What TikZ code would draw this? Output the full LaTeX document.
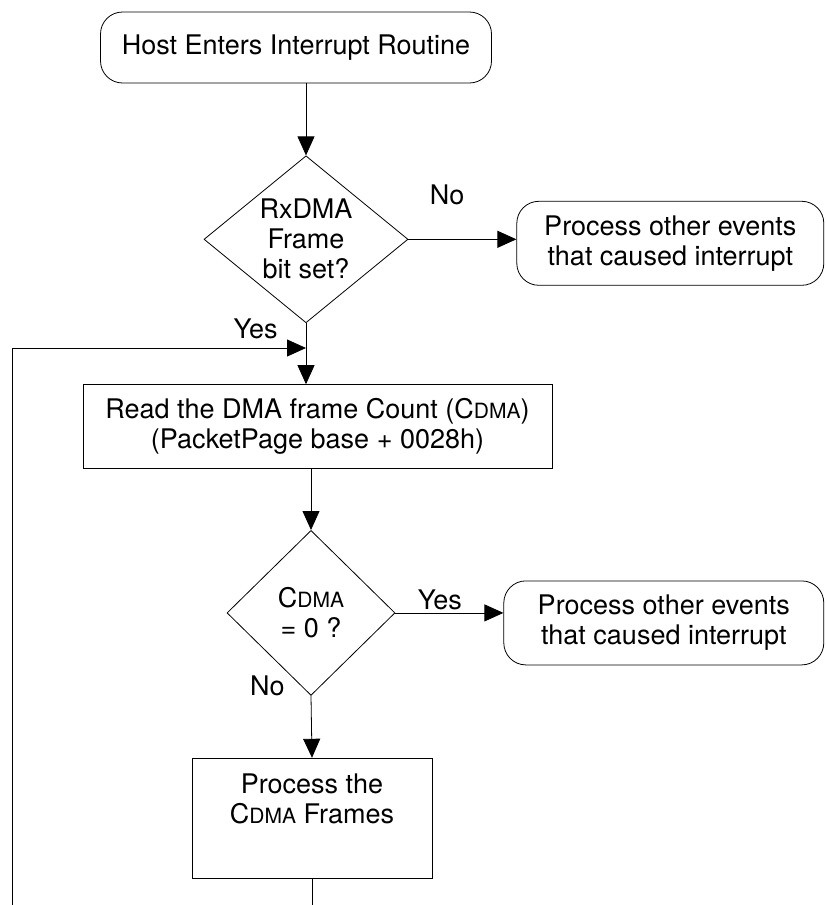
\documentclass[tikz,border=0pt]{standalone}
\usepackage{fontspec}
\setmainfont{TeX Gyre Heros}
\usetikzlibrary{positioning,shapes.geometric,arrows.meta}
\newcommand{\cdma}{C{\fontsize{21}{21}\selectfont DMA}}

\begin{document}
\begin{tikzpicture}[
    font=\fontsize{27}{30}\selectfont,
    line width=0.8pt,
    every node/.style={inner sep=0pt},
    terminal/.style={draw, rounded corners=22pt, minimum height=84pt, align=center},
    process/.style={draw, minimum height=84pt, align=center},
    decision/.style={draw, diamond, align=center},
    flow/.style={-{Triangle[length=19pt,width=17pt]}}]
  \useasboundingbox (0,0) rectangle (825pt,-905pt);

  \node (start) [terminal, minimum width=391pt, minimum height=71pt] at (296pt,-47.5pt) {Host Enters Interrupt Routine};
  \node (dec1) [decision, aspect=1.22, minimum width=204pt, minimum height=167pt, below=72pt of start, xshift=10pt] {RxDMA\\ Frame\\ bit set?};
  \node (other1) [terminal, minimum width=307pt, right=108pt of dec1, yshift=-4pt] {Process other events\\ that caused interrupt};
  \node (read) [process, minimum width=469pt, below=61pt of dec1, xshift=11.5pt] {Read the DMA frame Count (\cdma)\\ (PacketPage base + 0028h)};
  \node (dec2) [decision, aspect=1.02, minimum width=168pt, minimum height=165pt, below=61pt of read, xshift=-6.5pt] {\cdma\\ = 0 ?};
  \node (other2) [terminal, minimum width=320pt, right=108pt of dec2, yshift=-10pt] {Process other events\\ that caused interrupt};
  \node (proc) [process, minimum width=240pt, minimum height=120pt, below=62pt of dec2, xshift=1pt] {Process the\\ \cdma{} Frames\\ \strut};

  \node (no1) [right=21pt of dec1.east, yshift=44pt] {No};
  \node (yes1) [left=28pt of dec1.south, yshift=-6pt] {Yes};
  \node (yes2) [right=22pt of dec2.east, yshift=13pt] {Yes};
  \node (no2) [left=26pt of dec2.south, yshift=10pt] {No};

  \coordinate (loopend) at (12pt,-905pt);
  \coordinate (merge) at (dec1.south |- 0,-348pt);
  \coordinate (procout) at (proc.south |- loopend);

  \draw[flow] (start.south -| dec1.north) -- (dec1.north);
  \draw[flow] (dec1.east) -- (dec1.east -| other1.west);
  \draw[flow] (dec1.south) -- (dec1.south |- read.north);
  \draw[flow] (loopend) |- (merge);
  \draw[flow] (dec2.north |- read.south) -- (dec2.north);
  \draw[flow] (dec2.east) -- (dec2.east -| other2.west);
  \draw[flow] (dec2.south) -- (proc.north);
  \draw (proc.south) -- (procout);
\end{tikzpicture}
\end{document}
